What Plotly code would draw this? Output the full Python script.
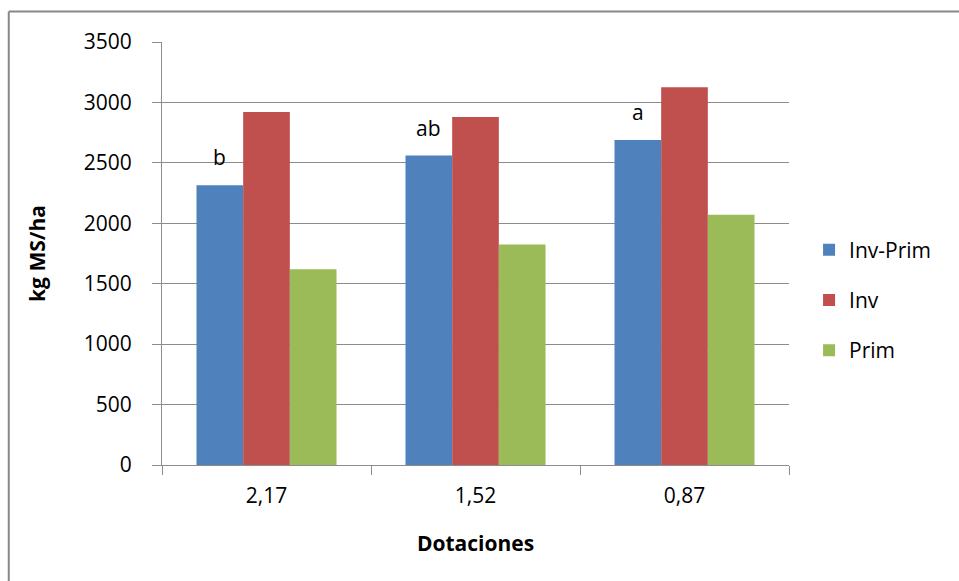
import plotly.graph_objects as go

# Forage availability by stocking rate
dotaciones = ["2,17", "1,52", "0,87"]
inv_prim = [2315, 2560, 2690]
inv = [2920, 2880, 3125]
prim = [1620, 1825, 2070]
letras = ["b", "ab", "a"]

series = [
    ("Inv-Prim", inv_prim, "#4F81BD"),
    ("Inv", inv, "#C0504D"),
    ("Prim", prim, "#9BBB59"),
]

FONT = "Open Sans"
GRID = "#8C8C8C"
BARGAP = 0.33

fig = go.Figure()
for name, vals, color in series:
    fig.add_trace(go.Bar(
        x=dotaciones, y=vals, name=name, legendgroup=name,
        marker=dict(color=color, line=dict(width=0)),
    ))

# significance letters above the Inv-Prim bars
n_series = len(series)
for i, (lbl, v) in enumerate(zip(letras, inv_prim)):
    fig.add_annotation(
        x=i - (1 - BARGAP) / n_series, y=v, xref="x", yref="y",
        text=lbl, showarrow=False, yanchor="bottom", yshift=12,
        font=dict(family=FONT, size=21, color="#000000"),
    )

# chart frame (top and left edges)
frame = dict(color="#878787", width=2)
fig.add_shape(type="line", xref="paper", yref="paper",
              x0=-0.2444, x1=1.3, y0=1.0721, y1=1.0721, line=frame)
fig.add_shape(type="line", xref="paper", yref="paper",
              x0=-0.2444, x1=-0.2444, y0=1.0721, y1=-0.3, line=frame)

fig.update_layout(
    width=959, height=581,
    margin=dict(l=161.5, r=169.5, t=42, b=116),
    paper_bgcolor="white", plot_bgcolor="white",
    barmode="group", bargap=BARGAP, bargroupgap=0,
    font=dict(family=FONT, size=21, color="#000000"),
    legend=dict(
        x=1.032, y=0.39, xanchor="left", yanchor="middle",
        tracegroupgap=20, font=dict(family=FONT, size=21),
        bgcolor="rgba(0,0,0,0)",
    ),
    xaxis=dict(
        type="category", tickson="boundaries", ticks="outside", ticklen=9,
        tickcolor=GRID, showline=True, linecolor=GRID, linewidth=1,
        showgrid=False, ticklabelstandoff=12,
        title=dict(text="<b>Dotaciones</b>", standoff=28,
                   font=dict(family=FONT, size=21)),
    ),
    yaxis=dict(
        range=[0, 3500], dtick=500, ticks="outside", ticklen=9,
        tickcolor=GRID, showline=True, linecolor=GRID, linewidth=1,
        showgrid=True, gridcolor=GRID, gridwidth=1, zeroline=False,
        ticklabelstandoff=16,
        title=dict(text="<b>kg MS/ha</b>", standoff=32,
                   font=dict(family=FONT, size=21)),
    ),
)

fig.write_html("out.html")
